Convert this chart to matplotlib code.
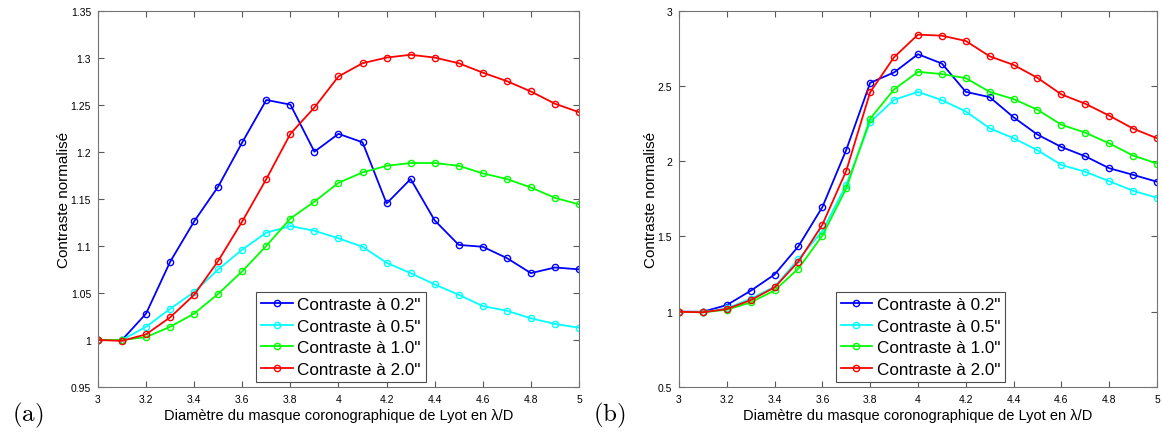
"""
Normalised contrast vs Lyot mask diameter, two panels (a) and (b).
"""
import matplotlib
matplotlib.use("Agg")
import matplotlib.pyplot as plt
from matplotlib.ticker import FormatStrFormatter, MultipleLocator

plt.rcParams["font.family"] = ["Liberation Sans", "DejaVu Sans"]
plt.rcParams["mathtext.fontset"] = "cm"

diameters = [3.0, 3.1, 3.2, 3.3, 3.4, 3.5, 3.6, 3.7, 3.8, 3.9, 4.0,
             4.1, 4.2, 4.3, 4.4, 4.5, 4.6, 4.7, 4.8, 4.9, 5.0]

# panel (a)
a_02 = [1.000, 1.000, 1.028, 1.083, 1.126, 1.163, 1.210, 1.255, 1.250, 1.200, 1.219,
        1.210, 1.145, 1.171, 1.127, 1.101, 1.099, 1.087, 1.071, 1.077, 1.075]
a_05 = [1.000, 1.000, 1.014, 1.033, 1.051, 1.075, 1.096, 1.114, 1.121, 1.116, 1.108,
        1.099, 1.082, 1.071, 1.059, 1.048, 1.036, 1.031, 1.023, 1.017, 1.013]
a_10 = [1.000, 1.000, 1.003, 1.014, 1.028, 1.049, 1.073, 1.100, 1.129, 1.147, 1.167,
        1.178, 1.185, 1.188, 1.188, 1.185, 1.177, 1.171, 1.162, 1.151, 1.144]
a_20 = [1.000, 0.999, 1.006, 1.024, 1.048, 1.084, 1.126, 1.171, 1.219, 1.247, 1.280,
        1.294, 1.300, 1.303, 1.300, 1.294, 1.284, 1.275, 1.264, 1.251, 1.242]

# panel (b)
b_02 = [1.000, 1.000, 1.044, 1.139, 1.247, 1.435, 1.695, 2.075, 2.520, 2.589, 2.710,
        2.648, 2.460, 2.425, 2.291, 2.176, 2.094, 2.032, 1.953, 1.909, 1.863]
b_05 = [1.000, 0.996, 1.022, 1.086, 1.166, 1.349, 1.536, 1.843, 2.260, 2.407, 2.460,
        2.405, 2.330, 2.218, 2.152, 2.072, 1.975, 1.929, 1.867, 1.803, 1.757]
b_10 = [1.000, 0.996, 1.013, 1.062, 1.141, 1.287, 1.506, 1.819, 2.282, 2.476, 2.593,
        2.578, 2.551, 2.460, 2.412, 2.341, 2.242, 2.189, 2.118, 2.037, 1.984]
b_20 = [1.000, 0.996, 1.018, 1.077, 1.161, 1.333, 1.578, 1.936, 2.458, 2.690, 2.840,
        2.833, 2.798, 2.696, 2.639, 2.553, 2.443, 2.381, 2.302, 2.216, 2.152]

labels = ['Contraste à 0.2"', 'Contraste à 0.5"', 'Contraste à 1.0"', 'Contraste à 2.0"']
colors = ["#0000ff", "#00ffff", "#00ff00", "#ff0000"]


def draw_panel(ax, series, ylim, ystep, tag):
    for values, label, color in zip(series, labels, colors):
        ax.plot(diameters, values, "-o", color=color, label=label, lw=1.3,
                ms=4.5, mfc="none", mew=1.0)
    ax.set_xlim(3, 5)
    ax.set_ylim(*ylim)
    ax.xaxis.set_major_locator(MultipleLocator(0.2))
    ax.yaxis.set_major_locator(MultipleLocator(ystep))
    ax.xaxis.set_major_formatter(FormatStrFormatter("%g"))
    ax.yaxis.set_major_formatter(FormatStrFormatter("%g"))
    ax.tick_params(direction="in", top=True, right=True, length=4, width=0.8,
                   color="0.35", labelsize=7.5, pad=5)
    for spine in ax.spines.values():
        spine.set_color("0.45")
        spine.set_linewidth(0.8)
    ax.set_xlabel("Diamètre du masque coronographique de Lyot en λ/D", fontsize=10.5, labelpad=3)
    ax.set_ylabel("Contraste normalisé", fontsize=11, labelpad=0)
    leg = ax.legend(loc="lower center", bbox_to_anchor=(0.505, 0.014), fontsize=12.3,
                    fancybox=False, edgecolor="0.3", framealpha=1, handlelength=1.85,
                    labelspacing=0.38, borderpad=0.3, handletextpad=0.25, borderaxespad=0)
    leg.get_frame().set_linewidth(0.8)
    ax.text(-0.179, -0.072, r"$(\mathrm{%s})$" % tag, transform=ax.transAxes,
            fontsize=18, ha="left", va="center")


def main():
    fig = plt.figure(figsize=(11.62, 4.35), dpi=100)
    ax_a = fig.add_axes([0.0843, 0.108, 0.414, 0.8655])
    ax_b = fig.add_axes([0.5843, 0.108, 0.4114, 0.8655])

    draw_panel(ax_a, [a_02, a_05, a_10, a_20], (0.95, 1.35), 0.05, "a")
    draw_panel(ax_b, [b_02, b_05, b_10, b_20], (0.5, 3.0), 0.5, "b")

    fig.savefig("out.png", dpi=100)
    plt.close(fig)


if __name__ == "__main__":
    main()
